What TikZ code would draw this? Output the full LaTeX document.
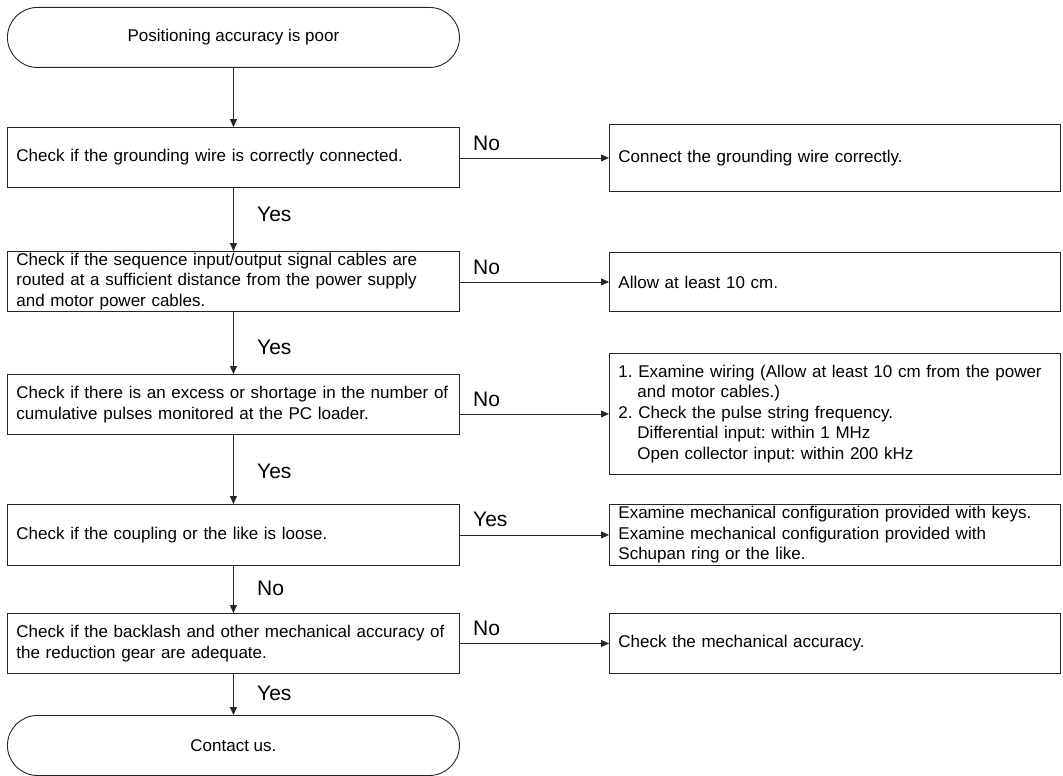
\documentclass[tikz,border=0pt]{standalone}
\usepackage{fontspec}
\setmainfont{Liberation Sans}
\usetikzlibrary{arrows.meta}
\frenchspacing
\begin{document}
\begin{tikzpicture}[x=1pt,y=-1pt,
  base/.style={draw=black!85, line width=0.9pt, anchor=north west, inner ysep=0pt,
    font=\fontsize{17}{20.5}\selectfont},
  lbox/.style={base, rectangle, inner xsep=9pt, text width=434pt, align=left},
  rbox/.style={base, rectangle, inner xsep=9pt, text width=433pt, align=left},
  term/.style={base, rounded corners=30pt, minimum width=452pt, minimum height=60pt, align=center},
  arr/.style={-{Triangle[length=8pt,width=7pt]}, line width=0.9pt, draw=black!85},
  lab/.style={font=\fontsize{21}{24}\selectfont, anchor=west, inner sep=0pt}]
\useasboundingbox (0,0) rectangle (1063,776);

% left column
\node[term] (S) at (7,7) {Positioning accuracy is poor};
\node[lbox, minimum height=60pt] (B1) at (7,127) {Check if the grounding wire is correctly connected.};
\node[lbox, minimum height=60pt] (B2) at (7,251) {Check if the sequence input/output signal cables are\\routed at a sufficient distance from the power supply\\and motor power cables.};
\node[lbox, minimum height=60pt] (B3) at (7,374) {Check if there is an excess or shortage in the number of\\cumulative pulses monitored at the PC loader.};
\node[lbox, minimum height=61pt] (B4) at (7,504) {Check if the coupling or the like is loose.};
\node[lbox, minimum height=60pt] (B5) at (7,613) {Check if the backlash and other mechanical accuracy of\\the reduction gear are adequate.};
\node[term] (E) at (7,715) {Contact us.};

% right column
\node[rbox, minimum height=67pt] (R1) at (609,124) {Connect the grounding wire correctly.};
\node[rbox, minimum height=59pt] (R2) at (609,252) {Allow at least 10 cm.};
\node[rbox, minimum height=121pt] (R3) at (609,353) {1. Examine wiring (Allow at least 10 cm from the power\\\hspace*{19pt}and motor cables.)\\2. Check the pulse string frequency.\\\hspace*{19pt}Differential input: within 1 MHz\\\hspace*{19pt}Open collector input: within 200 kHz};
\node[rbox, minimum height=61pt] (R4) at (609,504) {Examine mechanical configuration provided with keys.\\Examine mechanical configuration provided with\\Schupan ring or the like.};
\node[rbox, minimum height=60pt] (R5) at (609,613) {Check the mechanical accuracy.};

% vertical connectors
\draw[arr] (S.south) -- (B1.north);
\draw[arr] (B1.south) -- (B2.north);
\draw[arr] (B2.south) -- (B3.north);
\draw[arr] (B3.south) -- (B4.north);
\draw[arr] (B4.south) -- (B5.north);
\draw[arr] (B5.south) -- (E.north);

% horizontal connectors
\draw[arr] (B1.east |- R1.west) -- (R1.west);
\draw[arr] (B2.east |- R2.west) -- (R2.west);
\draw[arr] (B3.east |- R3.west) -- (R3.west);
\draw[arr] (B4.east |- R4.west) -- (R4.west);
\draw[arr] (B5.east |- R5.west) -- (R5.west);

% labels
\node[lab] (y1) at (257,214) {Yes};
\node[lab] (y2) at (257,347) {Yes};
\node[lab] (y3) at (257,471) {Yes};
\node[lab] (n4) at (257,588) {No};
\node[lab] (y5) at (257,693) {Yes};
\node[lab] (h1) at (473,143) {No};
\node[lab] (h2) at (473,267) {No};
\node[lab] (h3) at (473,399) {No};
\node[lab] (h4) at (473,519) {Yes};
\node[lab] (h5) at (473,628) {No};
\end{tikzpicture}
\end{document}
